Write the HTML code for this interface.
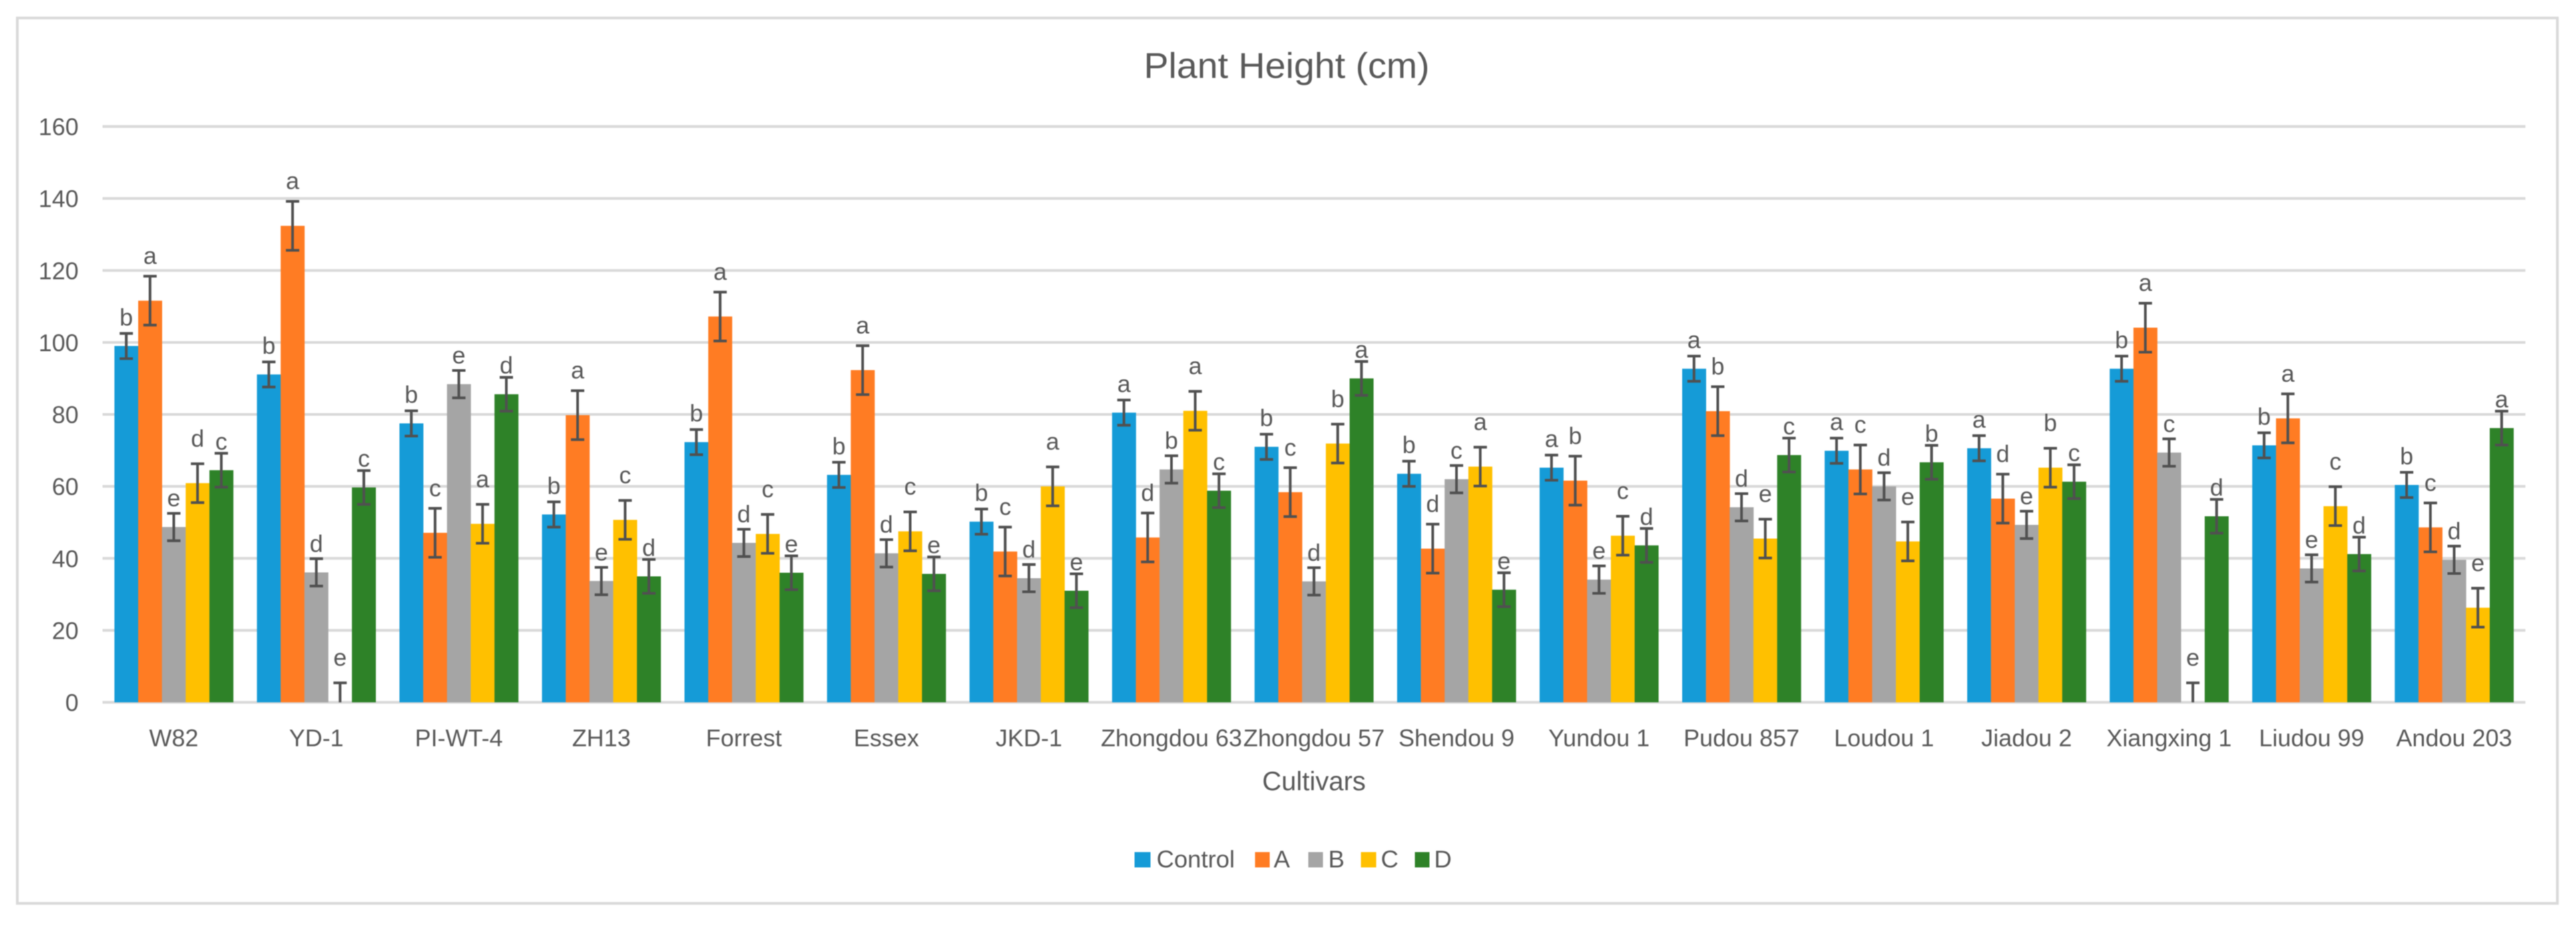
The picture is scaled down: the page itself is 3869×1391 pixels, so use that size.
<!DOCTYPE html>
<html lang="en">
<head>
<meta charset="utf-8">
<title>Plant Height (cm)</title>
<style>
  html, body { margin: 0; padding: 0; background: #ffffff; }
  body { width: 3869px; height: 1391px; overflow: hidden; }
  svg { display: block; font-family: "Liberation Sans", sans-serif; }
  text { fill: #595959; }
</style>
</head>
<body>
<svg id="chart" xmlns="http://www.w3.org/2000/svg" width="3869" height="1391" viewBox="0 0 3869 1391">
  <rect x="0" y="0" width="3869" height="1391" fill="#ffffff"/>
  <g id="scene" style="filter:blur(0.7px)">
    <rect x="26" y="27" width="3815" height="1330" fill="none" stroke="#d9d9d9" stroke-width="4"/>
    <text x="1932.5" y="117" font-size="54" text-anchor="middle" textLength="429" lengthAdjust="spacingAndGlyphs">Plant Height (cm)</text>
    <g id="grid"></g>
    <g id="yticks"></g>
    <g id="bars"></g>
    <g id="errors"></g>
    <g id="letters"></g>
    <g id="xticks"></g>
    <text x="1973.5" y="1187" font-size="40" text-anchor="middle">Cultivars</text>
    <g id="legend">
      <g>
        <rect x="1704" y="1280" width="24" height="23" fill="#159bd7"/>
        <text x="1737" y="1303" font-size="36.5">Control</text>
      </g>
      <g>
        <rect x="1885" y="1280" width="22" height="23" fill="#ff7c23"/>
        <text x="1913" y="1303" font-size="36.5">A</text>
      </g>
      <g>
        <rect x="1965" y="1280" width="22" height="23" fill="#a5a5a5"/>
        <text x="1995" y="1303" font-size="36.5">B</text>
      </g>
      <g>
        <rect x="2044" y="1280" width="23" height="23" fill="#ffc000"/>
        <text x="2074" y="1303" font-size="36.5">C</text>
      </g>
      <g>
        <rect x="2125" y="1280" width="22" height="23" fill="#2e8228"/>
        <text x="2154" y="1303" font-size="36.5">D</text>
      </g>
    </g>
  </g>
</svg>
<script>
const cultivars = ["W82","YD-1","PI-WT-4","ZH13","Forrest","Essex","JKD-1","Zhongdou 63","Zhongdou 57","Shendou 9","Yundou 1","Pudou 857","Loudou 1","Jiadou 2","Xiangxing 1","Liudou 99","Andou 203"];
const seriesNames = ["control","a","b","c","d"];
const controlValues = [99,91.1,77.5,52.2,72.3,63.2,50.2,80.5,71,63.5,65.2,92.7,69.9,70.6,92.7,71.4,60.4];
const aValues = [111.6,132.4,47.1,79.8,107.2,92.3,41.9,45.8,58.4,42.7,61.6,80.9,64.7,56.6,104.1,78.9,48.6];
const bValues = [48.7,36.1,88.4,33.7,44.3,41.4,34.5,64.7,33.6,62,34.1,54.2,60,49.3,69.4,37.2,39.6];
const cValues = [60.9,0,49.6,50.7,46.8,47.5,60,81,71.9,65.5,46.3,45.5,44.7,65.2,0,54.5,26.3];
const dValues = [64.5,59.7,85.6,35,36,35.7,31,58.8,90,31.3,43.6,68.7,66.7,61.3,51.7,41.2,76.2];
const seriesErrors = [3.5,6.8,3.8,5.4,4.7];
const controlLetters = ["b","b","b","b","b","b","b","a","b","b","a","a","a","a","b","b","b"];
const aLetters = ["a","a","c","a","a","a","c","d","c","d","b","b","c","d","a","a","c"];
const bLetters = ["e","d","e","e","d","d","d","b","d","c","e","d","d","e","c","e","d"];
const cLetters = ["d","e","a","c","c","c","a","a","b","a","c","e","e","b","e","c","e"];
const dLetters = ["c","c","d","d","e","e","e","c","a","e","d","c","b","c","d","d","a"];
const yTickLabels = [0,20,40,60,80,100,120,140,160];

const seriesValues = [controlValues,aValues,bValues,cValues,dValues];
const seriesLetters = [controlLetters,aLetters,bLetters,cLetters,dLetters];
const seriesColors = ["#159bd7","#ff7c23","#a5a5a5","#ffc000","#2e8228"];

const SVG_NS = "http://www.w3.org/2000/svg";
const plotLeft = 154, plotRight = 3793, baseY = 1055, topY = 190, yMax = 160;
const band = (plotRight - plotLeft) / cultivars.length;
const barW = band / 6;
const yScale = v => baseY - (v / yMax) * (baseY - topY);
const barX = (c, s) => plotLeft + c * band + barW / 2 + s * barW;
const labelLift = s => (s === 1 || s === 3) ? 55 : 31;

function make(tag, attrs, parent) {
  const el = document.createElementNS(SVG_NS, tag);
  for (const k in attrs) el.setAttribute(k, attrs[k]);
  parent.appendChild(el);
  return el;
}

const gridG = document.getElementById("grid");
const yticksG = document.getElementById("yticks");
yTickLabels.forEach(t => {
  const y = yScale(t);
  const line = make("line", {x1: plotLeft, x2: plotRight, y1: y, y2: y, stroke: "#d9d9d9", "stroke-width": 4}, gridG);
  
  
  const label = make("text", {x: 118, y: y + 13, "font-size": 36, "text-anchor": "end"}, yticksG);
  
  
  label.textContent = t;
});

const barsG = document.getElementById("bars");
const errorsG = document.getElementById("errors");
const lettersG = document.getElementById("letters");
const xticksG = document.getElementById("xticks");

cultivars.forEach((name, c) => {
  const tick = make("text", {x: plotLeft + (c + 0.5) * band, y: 1121, "font-size": 36, "text-anchor": "middle"}, xticksG);
  
  
  tick.textContent = name;

  seriesValues.forEach((vals, s) => {
    const v = vals[c];
    const e = seriesErrors[s];
    const x = barX(c, s);
    const top = yScale(v);
    const cx = x + barW / 2;

    if (v > 0) {
      const bar = make("rect", {x: x, y: top, width: barW + 0.3, height: baseY - top, fill: seriesColors[s]}, barsG);
      
      
    }

    const hiY = yScale(v + e);
    const loVal = v - e;
    const loY = yScale(Math.max(0, loVal));
    const stem = make("line", {x1: cx, x2: cx, y1: hiY, y2: loY, stroke: "#505050", "stroke-width": 4}, errorsG);
    
    
    const capHi = make("line", {x1: cx - 10, x2: cx + 10, y1: hiY, y2: hiY, stroke: "#505050", "stroke-width": 4}, errorsG);
    
    
    if (loVal > 0) {
      const capLo = make("line", {x1: cx - 10, x2: cx + 10, y1: loY, y2: loY, stroke: "#505050", "stroke-width": 4}, errorsG);
      
      
    }

    const letter = make("text", {x: cx, y: top - labelLift(s), "font-size": 36, "text-anchor": "middle"}, lettersG);
    
    
    letter.textContent = seriesLetters[s][c];
  });
});
</script>
</body>
</html>
